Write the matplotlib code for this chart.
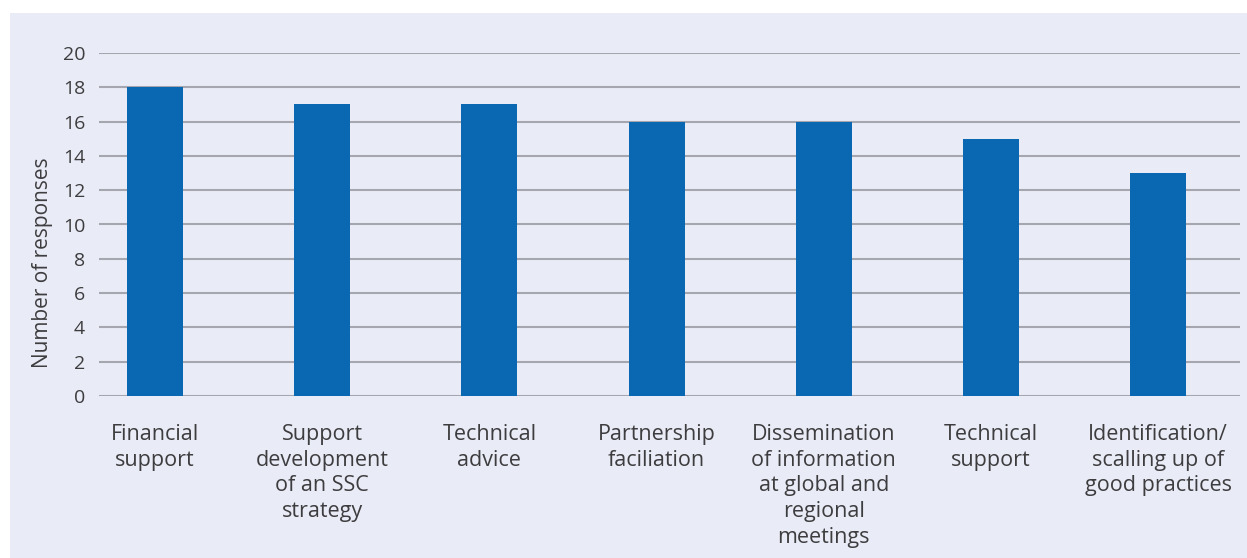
import matplotlib.pyplot as plt
import numpy as np

# survey: type of support requested
categories = ["Financial\nsupport",
              "Support\ndevelopment\nof an SSC\nstrategy",
              "Technical\nadvice",
              "Partnership\nfaciliation",
              "Dissemination\nof information\nat global and\nregional\nmeetings",
              "Technical\nsupport",
              "Identification/\nscalling up of\ngood practices"]
responses = [18, 17, 17, 16, 16, 15, 13]
yticks = [0, 2, 4, 6, 8, 10, 12, 14, 16, 18, 20]

bg = "#e9ebf6"
bar_col = "#0a67b1"
txt = "#3d3d3f"

plt.rcParams['font.family'] = ['Open Sans', 'DejaVu Sans']

fig = plt.figure(figsize=(12.47, 5.58), dpi=100)
fig.patch.set_facecolor("white")
# shaded panel behind the chart
fig.patches.append(plt.Rectangle((10 / 1247, 0), 1 - 10 / 1247, 1 - 13 / 558,
                                 transform=fig.transFigure, facecolor=bg,
                                 edgecolor="none", zorder=-1))

ax = fig.add_axes([99 / 1247, 1 - 396 / 558, (1240 - 99) / 1247, (396 - 53) / 558])
ax.set_facecolor("none")

x = np.arange(len(categories))
ax.bar(x, responses, width=0.335, color=bar_col, zorder=3)

ax.set_xlim(-0.335, len(categories) - 1 + 0.49)
ax.set_ylim(0, 20)
ax.set_yticks(yticks)
ax.yaxis.grid(True, color="#a5a6b0", linewidth=1.5, zorder=0)
ax.set_axisbelow(True)

for s in ax.spines.values():
    s.set_visible(False)
ax.tick_params(axis="y", length=0, pad=10, labelsize=14, labelcolor=txt)
ax.tick_params(axis="x", length=0, pad=20, labelsize=15.5, labelcolor=txt)
ax.set_xticks(x)
ax.set_xticklabels(categories, linespacing=1.3, va="top")

ax.set_ylabel("Number of responses", fontsize=15, color=txt)
ax.yaxis.set_label_coords(-0.040, 0.39)

plt.savefig("out.png", dpi=100)
